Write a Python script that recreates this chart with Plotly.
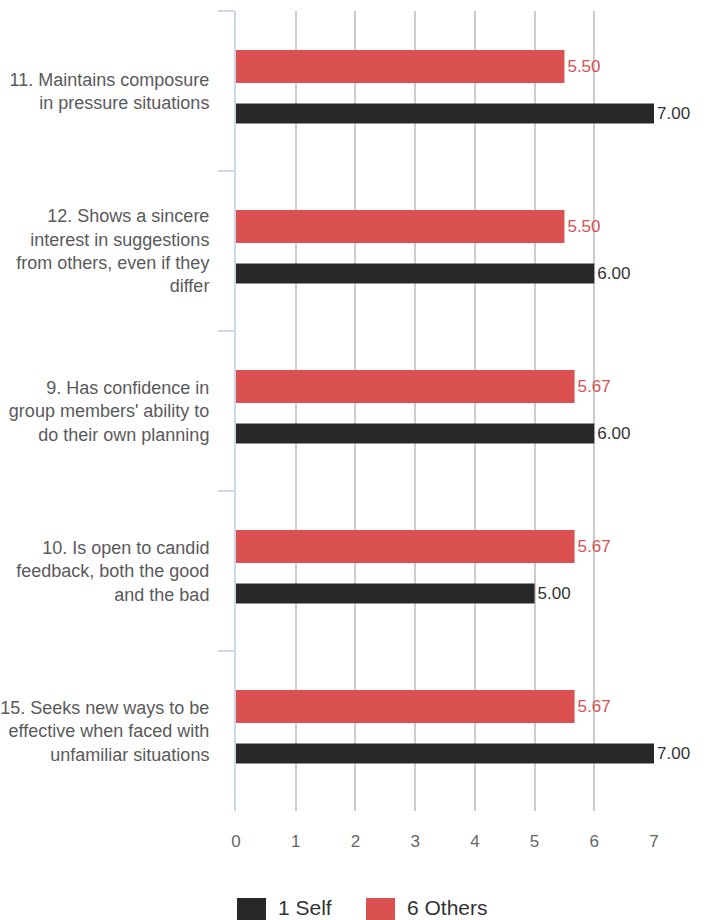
import plotly.graph_objects as go

# Competency items, top to bottom
categories = [
    "11. Maintains composure<br>in pressure situations",
    "12. Shows a sincere<br>interest in suggestions<br>from others, even if they<br>differ",
    "9. Has confidence in<br>group members' ability to<br>do their own planning",
    "10. Is open to candid<br>feedback, both the good<br>and the bad",
    "15. Seeks new ways to be<br>effective when faced with<br>unfamiliar situations",
]
others_scores = [5.50, 5.50, 5.67, 5.67, 5.67]
self_scores = [7.00, 6.00, 6.00, 5.00, 7.00]
series_names = ["1 Self", "6 Others"]
x_ticks = [0, 1, 2, 3, 4, 5, 6, 7]

RED = "#db5050"
DARK = "#282828"
FONT = "Liberation Sans, Arial, sans-serif"

fig = go.Figure()

fig.add_trace(go.Bar(
    y=categories, x=others_scores, orientation="h",
    name=series_names[1], marker=dict(color=RED, line=dict(width=0)),
    width=0.206, offset=-0.256,
    text=[f"{v:.2f}" for v in others_scores], textposition="outside",
    textfont=dict(color=RED, size=17, family=FONT),
    constraintext="none", cliponaxis=False, showlegend=False,
))
fig.add_trace(go.Bar(
    y=categories, x=self_scores, orientation="h",
    name=series_names[0], marker=dict(color=DARK, line=dict(width=0)),
    width=0.125, offset=0.078,
    text=[f"{v:.2f}" for v in self_scores], textposition="outside",
    textfont=dict(color="#333333", size=17, family=FONT),
    constraintext="none", cliponaxis=False, showlegend=False,
))

# Legend drawn as swatches + labels under the axis
legend_items = [(series_names[0], DARK, 0.0024), (series_names[1], RED, 0.3110)]
shapes = []
annotations = []
for name, color, x0 in legend_items:
    shapes.append(dict(
        type="rect", xref="paper", yref="paper",
        x0=x0, x1=x0 + 29 / 418, y0=-109 / 800 - 18 / 800, y1=-87 / 800,
        fillcolor=color, line=dict(width=0),
    ))
    annotations.append(dict(
        xref="paper", yref="paper", x=x0 + 39 / 418, y=-96 / 800,
        text=name, showarrow=False, xanchor="left", yanchor="middle",
        font=dict(size=21, color="#333333", family=FONT),
    ))

fig.update_layout(
    width=707, height=920,
    margin=dict(l=236, r=53, t=11, b=109),
    paper_bgcolor="white", plot_bgcolor="white",
    barmode="overlay",
    font=dict(family=FONT),
    shapes=shapes, annotations=annotations,
    xaxis=dict(
        range=[0, 7], tickvals=x_ticks, showgrid=True,
        gridcolor="#cccccc", gridwidth=2, zeroline=False, showline=False,
        tickfont=dict(size=17, color="#666666"), ticklabelstandoff=18,
        fixedrange=True, automargin=False,
    ),
    yaxis=dict(
        autorange=False, range=[4.5, -0.5], categoryorder="array",
        categoryarray=categories, showgrid=False, zeroline=False,
        showline=True, linecolor="#ccd6eb", linewidth=2,
        ticks="outside", tickson="boundaries", ticklen=16,
        tickcolor="#ccd6eb", tickwidth=2, automargin=False,
        tickfont=dict(size=18, color="#5a5a5a"), ticklabelstandoff=21,
    ),
)

fig.write_html("out.html")
